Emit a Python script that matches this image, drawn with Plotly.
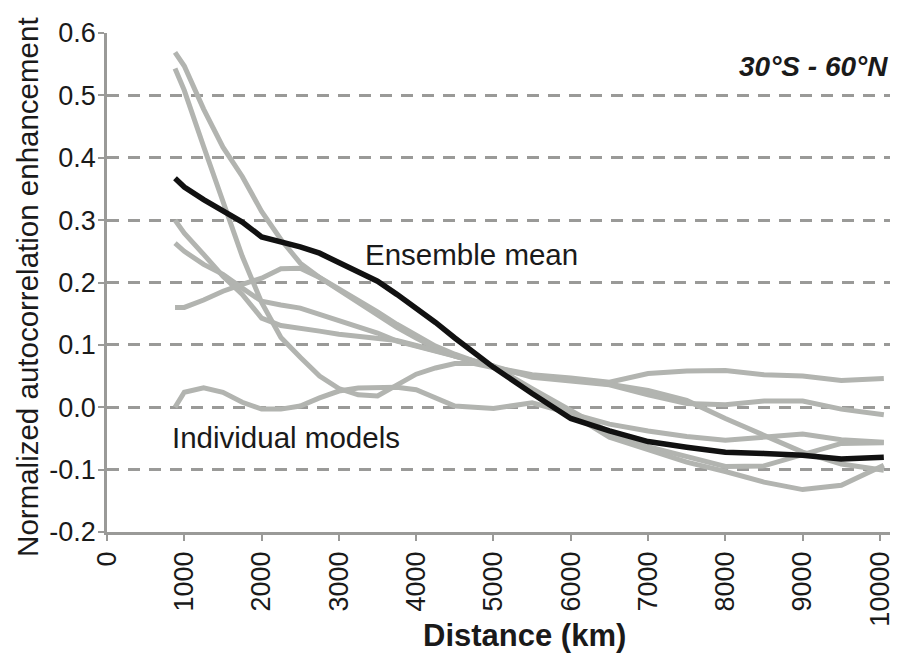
import plotly.graph_objects as go

# Distance (km) at which each curve is sampled
DIST_KM = [880, 1000, 1250, 1500, 1750, 2000, 2250, 2500, 2750, 3000, 3250, 3500,
           3750, 4000, 4250, 4500, 4750, 5000, 5500, 6000, 6500, 7000, 7500, 8000,
           8500, 9000, 9500, 10050]

# Individual models
MODEL_1 = [0.569, 0.547, 0.478, 0.417, 0.370, 0.314, 0.269, 0.231, 0.208, 0.188, 0.168, 0.146,
           0.128, 0.111, 0.095, 0.082, 0.072, 0.064, 0.052, 0.047, 0.040, 0.054, 0.058, 0.059,
           0.052, 0.050, 0.043, 0.046]
MODEL_2 = [0.543, 0.508, 0.418, 0.327, 0.242, 0.168, 0.112, 0.080, 0.050, 0.030, 0.020, 0.018,
           0.035, 0.053, 0.063, 0.070, 0.070, 0.064, 0.050, 0.044, 0.037, 0.027, 0.011, -0.018,
           -0.046, -0.072, -0.091, -0.101]
MODEL_3 = [0.300, 0.279, 0.245, 0.210, 0.181, 0.143, 0.131, 0.127, 0.122, 0.117, 0.114, 0.111,
           0.107, 0.099, 0.091, 0.083, 0.074, 0.066, 0.030, -0.005, -0.040, -0.063, -0.080, -0.095,
           -0.094, -0.076, -0.058, -0.057]
MODEL_4 = [0.263, 0.250, 0.229, 0.213, 0.191, 0.170, 0.164, 0.159, 0.149, 0.139, 0.130, 0.119,
           0.106, 0.098, 0.090, 0.082, 0.074, 0.066, 0.028, -0.010, -0.048, -0.068, -0.088, -0.103,
           -0.120, -0.132, -0.125, -0.093]
MODEL_5 = [0.160, 0.160, 0.172, 0.186, 0.197, 0.207, 0.222, 0.223, 0.208, 0.190, 0.172, 0.153,
           0.133, 0.115, 0.098, 0.085, 0.074, 0.066, 0.048, 0.042, 0.036, 0.020, 0.006, 0.004,
           0.010, 0.010, -0.003, -0.012]
MODEL_6 = [0.000, 0.024, 0.031, 0.024, 0.008, -0.003, -0.003, 0.002, 0.015, 0.026, 0.031, 0.032,
           0.032, 0.028, 0.014, 0.002, 0.000, -0.002, 0.007, -0.010, -0.027, -0.038, -0.047, -0.053,
           -0.048, -0.043, -0.052, -0.056]

# Ensemble mean
ENSEMBLE = [0.367, 0.353, 0.333, 0.316, 0.297, 0.273, 0.266, 0.257, 0.247, 0.232, 0.215, 0.202,
            0.181, 0.159, 0.136, 0.111, 0.087, 0.064, 0.022, -0.018, -0.038, -0.055, -0.064, -0.072,
            -0.074, -0.077, -0.083, -0.080]

X_TICKS = [0, 1000, 2000, 3000, 4000, 5000, 6000, 7000, 8000, 9000, 10000]
Y_TICKS = [-0.2, -0.1, 0.0, 0.1, 0.2, 0.3, 0.4, 0.5, 0.6]

FONT = "Liberation Sans, Arial, Helvetica, sans-serif"
GRAY = "#b2b4b0"
AXIS = "#9a9a98"
INK = "#1a1a1a"

fig = go.Figure()
for series in [MODEL_1, MODEL_2, MODEL_3, MODEL_4, MODEL_5, MODEL_6]:
    fig.add_trace(go.Scatter(x=DIST_KM, y=series, mode="lines",
                             line=dict(color=GRAY, width=5), hoverinfo="skip"))
fig.add_trace(go.Scatter(x=DIST_KM, y=ENSEMBLE, mode="lines",
                         line=dict(color="#111111", width=5.5), hoverinfo="skip"))

fig.update_layout(
    width=899, height=654,
    margin=dict(l=107, r=9, t=33, b=122),
    paper_bgcolor="white", plot_bgcolor="white",
    showlegend=False,
    font=dict(family=FONT, color=INK),
)

fig.update_xaxes(
    range=[0, 10130], tickvals=X_TICKS, ticktext=[str(v) for v in X_TICKS],
    tickangle=-90, tickfont=dict(size=27, color=INK),
    ticks="outside", ticklen=6, tickwidth=2, tickcolor=AXIS,
    showline=True, linecolor=AXIS, linewidth=2.5, showgrid=False, zeroline=False,
    automargin=False,
)
fig.update_yaxes(
    range=[-0.2, 0.6], tickvals=Y_TICKS, ticktext=[f"{v:.1f}" for v in Y_TICKS],
    tickfont=dict(size=27, color=INK), ticklabelstandoff=-3,
    ticks="outside", ticklen=6, tickwidth=2, tickcolor=AXIS,
    showline=True, linecolor=AXIS, linewidth=2.5,
    showgrid=True, gridcolor=AXIS, gridwidth=2.5, griddash="12px,9px", zeroline=False,
    automargin=False,
)

# Axis titles (paper coordinates are fractions of the plotting area)
fig.add_annotation(x=0.533, y=-0.208, xref="paper", yref="paper", text="<b>Distance (km)</b>",
                   showarrow=False, xanchor="center", yanchor="middle",
                   font=dict(size=31, color=INK))
fig.add_annotation(x=-0.101, y=0.491, xref="paper", yref="paper",
                   text="Normalized autocorrelation enhancement", textangle=-90,
                   showarrow=False, xanchor="center", yanchor="middle",
                   font=dict(size=29.5, color=INK))

# In-plot labels
fig.add_annotation(x=3310, y=0.245, xref="x", yref="y", text="Ensemble mean",
                   showarrow=False, xanchor="left", yanchor="middle",
                   font=dict(size=29.5, color=INK))
fig.add_annotation(x=810, y=-0.048, xref="x", yref="y", text="Individual models",
                   showarrow=False, xanchor="left", yanchor="middle",
                   font=dict(size=29.5, color=INK))
fig.add_annotation(x=1, y=0.546, xref="paper", yref="y", text="<b><i>30°S - 60°N</i></b>",
                   showarrow=False, xanchor="right", yanchor="middle",
                   font=dict(size=28, color=INK))

fig.write_html("out.html")
